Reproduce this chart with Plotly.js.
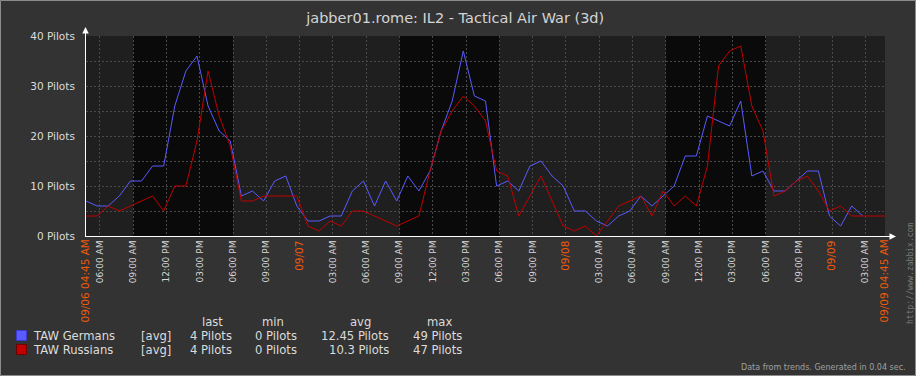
<!DOCTYPE html>
<html>
<head>
<meta charset="utf-8">
<script src="https://cdn.plot.ly/plotly-3.0.1.min.js"></script>
<style>
  html, body { margin: 0; padding: 0; background: #333333; }
  #chart { width: 916px; height: 376px; }
</style>
</head>
<body>
<div id="chart"></div>
<script>
// ---- data (hours since 09/06 04:45 AM, hourly trend samples) ----
const sampleHours = [0,1,2,3,4,5,6,7,8,9,10,11,12,13,14,15,16,17,18,19,20,21,22,23,24,25,26,27,28,29,30,31,32,33,34,35,36,37,38,39,40,41,42,43,44,45,46,47,48,49,50,51,52,53,54,55,56,57,58,59,60,61,62,63,64,65,66,67,68,69,70,71,72];
const germans = [7,6,6,8,11,11,14,14,26,33,36,26,21,19,8,9,7,11,12,6,3,3,4,4,9,11,6,11,7,12,9,13,21,27,37,28,27,10,11,9,14,15,12,10,5,5,3,2,4,5,8,6,8,10,16,16,24,23,22,27,12,13,9,9,11,13,13,4,2,6,4];
const russians = [4,4,6,5,6,7,8,5,10,10,19,33,24,18,7,7,8,8,8,8,2,1,3,2,5,5,4,3,2,3,4,13,21,25,28,26,23,13,12,4,8,12,7,2,1,2,0,3,6,7,8,4,9,6,8,6,14,34,37,38,26,21,8,9,11,12,9,5,6,4,4,4,4];

const tickHours = [1.25,4.25,7.25,10.25,13.25,16.25,19.25,22.25,25.25,28.25,31.25,34.25,37.25,40.25,43.25,46.25,49.25,52.25,55.25,58.25,61.25,64.25,67.25,70.25];
const tickLabels = ['06:00 AM','09:00 AM','12:00 PM','03:00 PM','06:00 PM','09:00 PM','09/07','03:00 AM','06:00 AM','09:00 AM','12:00 PM','03:00 PM','06:00 PM','09:00 PM','09/08','03:00 AM','06:00 AM','09:00 AM','12:00 PM','03:00 PM','06:00 PM','09:00 PM','09/09','03:00 AM'];
const edgeHours = [0, 72];
const edgeLabels = ['09/06 04:45 AM', '09/09 04:45 AM'];

const yTickValues = [0,5,10,15,20,25,30,35,40];
const yTickLabels = ['0 Pilots','','10 Pilots','','20 Pilots','','30 Pilots','','40 Pilots'];

const workPeriods = [[4.25,13.25],[28.25,37.25],[52.25,61.25]];

const seriesNames = ['TAW Germans','TAW Russians'];
const seriesFunc = ['[avg]','[avg]'];
const statHeaders = ['last','min','avg','max'];
const statLast = ['4 Pilots','4 Pilots'];
const statMin = ['0 Pilots','0 Pilots'];
const statAvg = ['12.45 Pilots','10.3 Pilots'];
const statMax = ['49 Pilots','47 Pilots'];

// ---- styling / layout ----
const FONT = 'DejaVu Sans, Verdana, sans-serif';
const ORANGE = '#f05a0a';
const BLUE = '#5a5aff';
const RED = '#c00000';
const L = 86, T = 36, W = 799, H = 200, FW = 916, FH = 376;
const px = x => (x - L) / W;
const py = y => (T + H - y) / H;

const colourTick = t => /^\d\d\/\d\d/.test(t)
  ? '<span style="color:' + ORANGE + ';font-size:10.5px">' + t + '</span>' : t;

const traces = [
  { x: sampleHours.slice(0, germans.length), y: germans, type: 'scatter', mode: 'lines',
    line: { color: BLUE, width: 1 }, name: seriesNames[0], hoverinfo: 'none' },
  { x: sampleHours.slice(0, russians.length), y: russians, type: 'scatter', mode: 'lines',
    line: { color: RED, width: 1 }, name: seriesNames[1], hoverinfo: 'none' },
  { x: edgeHours, y: [null, null], xaxis: 'x2', type: 'scatter', mode: 'lines', showlegend: false, hoverinfo: 'none' }
];

const shapes = workPeriods.map(p => ({
  type: 'rect', xref: 'x', yref: 'paper', x0: p[0], x1: p[1], y0: 0, y1: 1,
  fillcolor: '#0a0a0a', line: { width: 0 }, layer: 'below'
}));
// frame border
shapes.push({ type: 'rect', xref: 'paper', yref: 'paper',
  x0: px(0.5), x1: px(FW - 0.5), y0: py(FH - 0.5), y1: py(0.5),
  line: { color: '#8c8c8c', width: 1 }, fillcolor: 'rgba(0,0,0,0)', layer: 'above' });
// legend swatches
const swatch = [[BLUE, '#3a3acc'], [RED, '#700000']];
[331, 345].forEach((top, i) => {
  shapes.push({ type: 'rect', xref: 'paper', yref: 'paper',
    x0: px(16.5), x1: px(26.5), y0: py(top + 9.5), y1: py(top - 0.5),
    fillcolor: swatch[i][0], line: { color: swatch[i][1], width: 1 }, layer: 'above' });
});

const ann = [];
const txt = (x, y, text, xanchor, size, color, extra) => ann.push(Object.assign({
  xref: 'paper', yref: 'paper', x: px(x), y: py(y), text: text, showarrow: false,
  xanchor: xanchor, yanchor: 'middle', font: { family: FONT, size: size, color: color }
}, extra || {}));

// axis arrows
ann.push({ xref: 'paper', yref: 'paper', x: px(85.5), y: py(27), ax: 0, ay: 209,
  showarrow: true, arrowhead: 2, arrowsize: 1.3, arrowwidth: 1, arrowcolor: '#ffffff', text: '' });
ann.push({ xref: 'paper', yref: 'paper', x: px(896), y: py(236.5), ax: -40, ay: 0,
  showarrow: true, arrowhead: 2, arrowsize: 1.3, arrowwidth: 1, arrowcolor: '#ffffff', text: '' });

// legend table
const LF = 11.6;
const headerX = [212.5, 272.5, 360, 439];
statHeaders.forEach((h, i) => txt(headerX[i], 322, h, 'center', LF, '#dcdcdc'));
const rowY = [336, 350];
for (let i = 0; i < 2; i++) {
  txt(31, rowY[i], seriesNames[i], 'left', LF, '#dcdcdc');
  txt(139, rowY[i], seriesFunc[i], 'left', LF, '#dcdcdc');
  txt(234, rowY[i], statLast[i], 'right', LF, '#dcdcdc');
  txt(299, rowY[i], statMin[i], 'right', LF, '#dcdcdc');
  txt(391, rowY[i], statAvg[i], 'right', LF, '#dcdcdc');
  txt(464, rowY[i], statMax[i], 'right', LF, '#dcdcdc');
}
txt(908, 367, 'Data from trends. Generated in 0.04 sec.', 'right', 8, '#a0a0a0');
txt(910, 274, 'http://www.zabbix.com', 'center', 8, '#7a7a7a',
  { textangle: -90, font: { family: 'DejaVu Sans Mono, monospace', size: 8, color: '#7a7a7a' } });

const layout = {
  width: FW, height: FH,
  paper_bgcolor: '#333333', plot_bgcolor: '#1f1f1f',
  margin: { l: L, r: FW - L - W, t: T, b: FH - T - H, pad: 0 },
  showlegend: false,
  font: { family: FONT, color: '#dcdcdc' },
  title: { text: 'jabber01.rome: IL2 - Tactical Air War (3d)', xref: 'container', x: 0.497,
    y: 1 - 18 / FH, yanchor: 'middle', font: { family: FONT, size: 14.5, color: '#d4d4d4' } },
  xaxis: {
    range: [0, 72], tickmode: 'array', tickvals: tickHours, ticktext: tickLabels.map(colourTick),
    tickangle: -90, tickfont: { family: FONT, size: 9, color: '#d8d8d8' },
    showgrid: true, gridcolor: '#4a4a4a', griddash: '2px,2px', gridwidth: 1,
    showline: true, linecolor: '#ffffff', linewidth: 1, zeroline: false, ticks: '', fixedrange: true
  },
  xaxis2: {
    range: [0, 72], overlaying: 'x', anchor: 'y', side: 'bottom', tickmode: 'array',
    tickvals: edgeHours, ticktext: edgeLabels, tickangle: -90,
    tickfont: { family: FONT, size: 10.5, color: ORANGE },
    showgrid: false, showline: false, zeroline: false, ticks: ''
  },
  yaxis: {
    range: [0, 40], tickmode: 'array', tickvals: yTickValues, ticktext: yTickLabels,
    tickfont: { family: FONT, size: 10.5, color: '#dcdcdc' }, ticklabelstandoff: 8,
    showgrid: true, gridcolor: '#4a4a4a', griddash: '2px,2px', gridwidth: 1,
    showline: true, linecolor: '#ffffff', linewidth: 1, zeroline: false, ticks: '', fixedrange: true
  },
  shapes: shapes,
  annotations: ann
};

Plotly.newPlot('chart', traces, layout, { staticPlot: true, displayModeBar: false });
</script>
</body>
</html>
